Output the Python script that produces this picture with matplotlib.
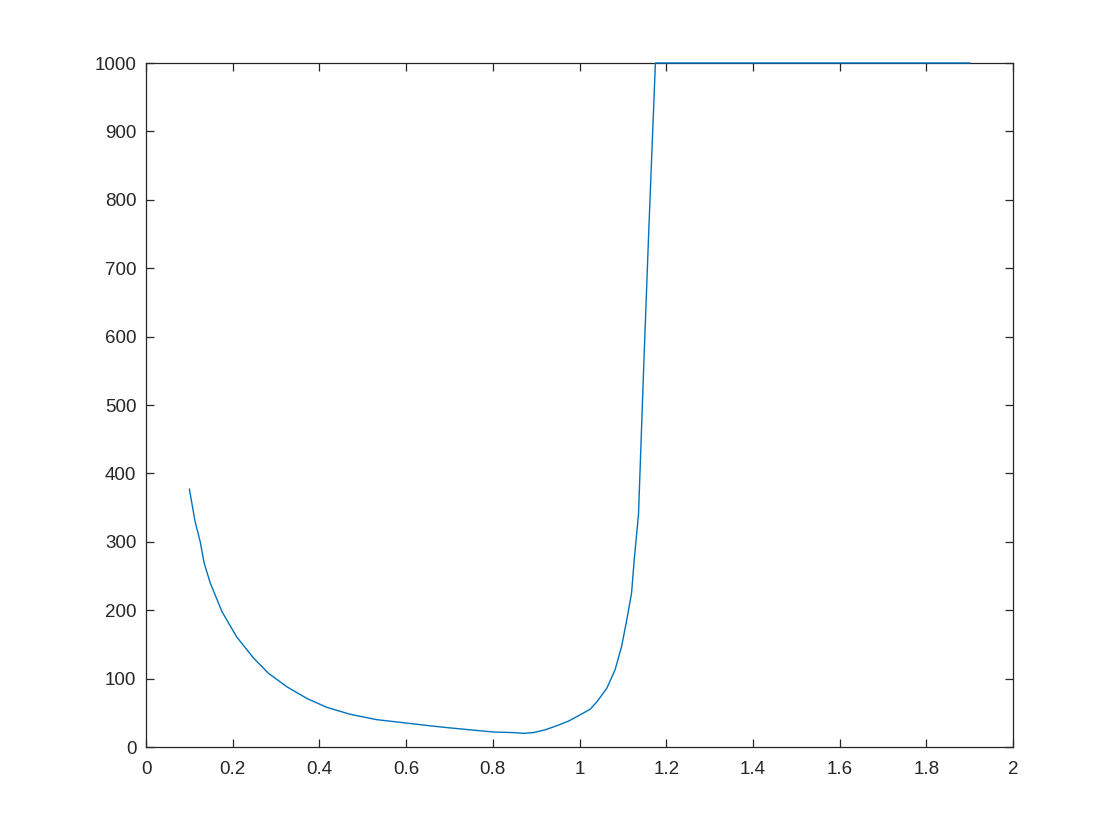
import numpy as np
import matplotlib
matplotlib.use("Agg")
import matplotlib.pyplot as plt

# values
x_vals = [0.100, 0.113, 0.125, 0.134, 0.148, 0.175, 0.209, 0.248, 0.282, 0.325,
          0.371, 0.417, 0.470, 0.532, 0.601, 0.655, 0.700, 0.750, 0.800, 0.850,
          0.870, 0.893, 0.920, 0.947, 0.975, 1.001, 1.024, 1.040, 1.063, 1.082,
          1.097, 1.109, 1.120, 1.126, 1.136, 1.149, 1.160, 1.175, 1.900]
y_vals = [377, 330, 300, 269, 240, 198, 161, 130, 108, 88,
          71, 58, 48, 40, 35, 31, 28, 25, 22, 21,
          20, 21, 25, 31, 38, 47, 55, 66, 86, 113,
          147, 186, 225, 273, 340, 573, 760, 1000, 1000]

x_ticks = [0, 0.2, 0.4, 0.6, 0.8, 1, 1.2, 1.4, 1.6, 1.8, 2]
x_labels = ["0", "0.2", "0.4", "0.6", "0.8", "1", "1.2", "1.4", "1.6", "1.8", "2"]
y_ticks = [0, 100, 200, 300, 400, 500, 600, 700, 800, 900, 1000]

axis_col = "#262626"
plt.rcParams["font.family"] = ["Liberation Sans", "DejaVu Sans"]

fig = plt.figure(figsize=(11.2, 8.4), dpi=100)
ax = fig.add_axes([0.1304, 0.1107, 0.7741, 0.8143])

# line sits on the top spine at y=1000, so draw it above the frame
ax.plot(x_vals, y_vals, color="#0072BD", linewidth=1.0, clip_on=False, zorder=5)

ax.set_xlim(0, 2)
ax.set_ylim(0, 1000)
ax.set_xticks(x_ticks)
ax.set_xticklabels(x_labels)
ax.set_yticks(y_ticks)

for s in ax.spines.values():
    s.set_color(axis_col)
    s.set_linewidth(0.9)

ax.tick_params(direction="in", length=6, width=0.9, color=axis_col,
               labelcolor=axis_col, labelsize=13.5, top=True, right=True)
ax.tick_params(axis="x", pad=10)
ax.tick_params(axis="y", pad=7)

fig.savefig("out.png", dpi=100)
